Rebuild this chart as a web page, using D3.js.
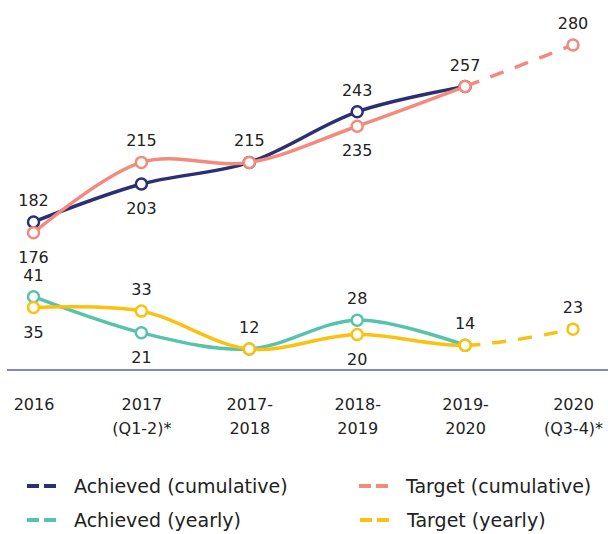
<!doctype html>
<html lang="en">
<head>
	<meta charset="UTF-8">
	<title>Achieved vs target</title>
	<style type="text/css">
	body{ margin: 0; background: #fff; }
	svg text{ font-family: 'DejaVu Sans', sans-serif; fill: #222; }
	</style>
	<script type="text/javascript" src="https://cdn.jsdelivr.net/npm/d3@7/dist/d3.min.js"></script>
</head>
<body>
	<script type="text/javascript">
		// categories (tick labels, split on two lines)
		var categories = ['2016', '2017', '2017-2018', '2018-2019', '2019-2020', '2020'];
		var tickLines = [['2016'], ['2017', '(Q1-2)*'], ['2017-', '2018'], ['2018-', '2019'], ['2019-', '2020'], ['2020', '(Q3-4)*']];

		var achievedCum = [182, 203, 215, 243, 257];
		var targetCum = [176, 215, 215, 235, 257, 280];
		var achievedYear = [41, 21, 12, 28, 14];
		var targetYear = [35, 33, 12, 20, 14, 23];

		// where each value label sits (null = no label)
		var achievedCumLabel = ['above', 'below', null, 'above', null];
		var targetCumLabel = ['below', 'above', 'above', 'below', 'above', 'above'];
		var achievedYearLabel = ['above', 'below', null, 'above', null];
		var targetYearLabel = ['below', 'above', 'above', 'below', 'above', 'above'];

		var w = 608, h = 534;
		var svg = d3.select('body').append('svg')
			.attr('width', w)
			.attr('height', h);

		var x = d3.scalePoint().domain(categories).range([33.5, 573]);
		var yCum = d3.scaleLinear().domain([176, 280]).range([232.8, 45]);
		var yYear = d3.scaleLinear().domain([0, 41]).range([370.6, 296.7]);

		// split point between solid and dashed (projection)
		var splitX = x('2019-2020');
		var defs = svg.append('defs');
		defs.append('clipPath').attr('id', 'solid')
			.append('rect').attr('x', 0).attr('y', 0).attr('width', splitX).attr('height', h);
		defs.append('clipPath').attr('id', 'dashed')
			.append('rect').attr('x', splitX).attr('y', 0).attr('width', w - splitX).attr('height', h);

		// baseline
		svg.append('line')
			.attr('x1', 7).attr('x2', w)
			.attr('y1', 370).attr('y2', 370)
			.attr('stroke', '#5c5f98')
			.attr('stroke-width', 1.5);

		var axis = d3.axisBottom(x).tickSize(0).tickPadding(0);
		var gAxis = svg.append('g').attr('transform', 'translate(0,370)').call(axis);
		gAxis.select('.domain').remove();
		gAxis.selectAll('.tick text')
			.attr('y', 0).attr('dy', null)
			.attr('font-size', '16px')
			.attr('font-family', "'DejaVu Sans', sans-serif")
			.attr('fill', '#222')
			.text(null)
			.each(function(d, i){
				var t = d3.select(this);
				tickLines[i].forEach(function(s, j){
					t.append('tspan').attr('x', 0).attr('y', 40 + j*24).text(s);
				});
			});

		function drawSeries(values, y, color, labels){
			var pts = values.map(function(v, i){ return [x(categories[i]), y(v)]; });
			var line = d3.line().curve(d3.curveCatmullRom.alpha(0.5));
			svg.append('path')
				.attr('d', line(pts))
				.attr('clip-path', 'url(#solid)')
				.attr('fill', 'none')
				.attr('stroke', color)
				.attr('stroke-width', 3.5);
			if(values.length > 5){
				svg.append('path')
					.attr('d', line(pts))
					.attr('clip-path', 'url(#dashed)')
					.attr('fill', 'none')
					.attr('stroke', color)
					.attr('stroke-width', 3.5)
					.attr('stroke-dasharray', '14 12');
			}
			svg.selectAll(null)
				.data(pts)
				.enter()
				.append('circle')
				.attr('cx', function(d){ return d[0]; })
				.attr('cy', function(d){ return d[1]; })
				.attr('r', 5.5)
				.attr('fill', '#fff')
				.attr('stroke', color)
				.attr('stroke-width', 2.5);
			var lab = values.map(function(v, i){ return {v: v, i: i, pos: labels[i]}; })
				.filter(function(d){ return d.pos; });
			svg.selectAll(null)
				.data(lab)
				.enter()
				.append('text')
				.attr('x', function(d){ return x(categories[d.i]); })
				.attr('y', function(d){ return y(d.v) + (d.pos === 'above' ? -16 : 30); })
				.attr('text-anchor', 'middle')
				.attr('font-size', '16px')
				.text(function(d){ return d.v; });
		}

		drawSeries(achievedCum, yCum, '#2b2f73', achievedCumLabel);
		drawSeries(targetCum, yCum, '#f38a7b', targetCumLabel);
		drawSeries(achievedYear, yYear, '#57c3ab', achievedYearLabel);
		drawSeries(targetYear, yYear, '#fcc010', targetYearLabel);

		// legend
		var legend = [
			{name: 'Achieved (cumulative)', color: '#2b2f73', lx: 27, ly: 486},
			{name: 'Target (cumulative)', color: '#f38a7b', lx: 359, ly: 486},
			{name: 'Achieved (yearly)', color: '#57c3ab', lx: 27, ly: 520},
			{name: 'Target (yearly)', color: '#fcc010', lx: 360, ly: 520}
		];
		var lg = svg.selectAll('.legend')
			.data(legend)
			.enter()
			.append('g')
			.attr('class', 'legend')
			.attr('transform', function(d){ return 'translate(' + d.lx + ',' + d.ly + ')'; });
		lg.append('line')
			.attr('x1', 0).attr('x2', 29)
			.attr('y1', 0).attr('y2', 0)
			.attr('stroke', function(d){ return d.color; })
			.attr('stroke-width', 4)
			.attr('stroke-dasharray', '12 5');
		lg.append('text')
			.attr('x', 47)
			.attr('y', 7)
			.attr('font-size', '19px')
			.text(function(d){ return d.name; });
	</script>
</body>
</html>
